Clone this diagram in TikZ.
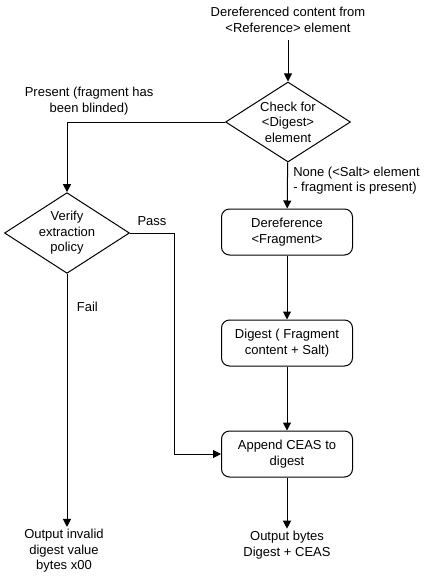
\documentclass[tikz,border=0pt]{standalone}
\usepackage{fontspec}
\setmainfont{Liberation Sans}
\usetikzlibrary{arrows.meta,positioning,shapes}

\begin{document}
\begin{tikzpicture}[
    x=1pt, y=-1pt, line width=1pt,
    every node/.style={font=\fontsize{13}{15.5}\selectfont},
    plain/.style={align=center, inner sep=2pt},
    decision/.style={diamond, draw, aspect=1.5, inner sep=0pt, align=center, minimum width=125pt, minimum height=80pt},
    procbox/.style={rectangle, rounded corners=8pt, draw, align=center, minimum width=131pt, minimum height=46pt},
    arrow/.style={-{Triangle[length=8pt,width=8pt]}}
]
\useasboundingbox (0,0) rectangle (429,578);

% Flow nodes
\node[plain] (src) at (288,20) {Dereferenced content from\\<Reference> element};
\node[decision] (check) at (288,122) {Check for\\<Digest>\\element};
\node[decision] (verify) at (67,233) {Verify\\extraction\\policy};
\node[procbox] (deref) at (287,232) {Dereference\\<Fragment>};
\node[procbox] (digest) at (287,343) {Digest ( Fragment\\content + Salt)};
\node[procbox] (append) at (287,454) {Append CEAS to\\digest};
\node[plain] (badout) at (64,551) {Output invalid\\digest value\\bytes x00};
\node[plain] (goodout) at (287,545) {Output bytes\\Digest + CEAS};

% Arrows
\draw[arrow, shorten <=5pt] (src) -- (check);
\draw[arrow] (check) -- (deref) node[pos=0.4, right=2pt, align=left] {None (<Salt> element\\- fragment is present)};
\draw[arrow] (check.west) -| (verify.north) node[pos=0.43, above=3pt, align=center] {Present (fragment has\\been blinded)};
\draw[arrow] (deref) -- (digest);
\draw[arrow] (digest) -- (append);
\draw[arrow] (verify.east) -- ++(44,0) node[midway, above=4pt] {Pass} |- (append.west);
\draw[arrow] (verify.south) -- (verify.south |- badout.north) node[pos=0.13, right=6pt] {Fail};
\draw[arrow] (append) -- (goodout);

\end{tikzpicture}
\end{document}
